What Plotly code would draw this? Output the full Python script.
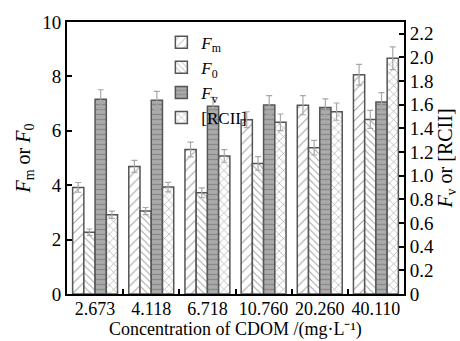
import plotly.graph_objects as go

# CDOM concentrations (mg/L) used as the category labels
concentrations = ["2.673", "4.118", "6.718", "10.760", "20.260", "40.110"]

# Left axis: Fm and F0
fm_values = [3.92, 4.69, 5.31, 6.41, 6.94, 8.06]
fm_errors = [0.18, 0.22, 0.27, 0.29, 0.35, 0.38]
f0_values = [2.27, 3.05, 3.72, 4.80, 5.38, 6.42]
f0_errors = [0.12, 0.13, 0.18, 0.25, 0.27, 0.33]

# Right axis: Fv and [RCII]
fv_values = [1.647, 1.638, 1.587, 1.599, 1.576, 1.624]
fv_errors = [0.080, 0.076, 0.076, 0.079, 0.074, 0.079]
rc_values = [0.67, 0.904, 1.167, 1.452, 1.542, 1.994]
rc_errors = [0.030, 0.040, 0.053, 0.070, 0.073, 0.096]

# Tick labels
left_ticks = [0, 2, 4, 6, 8, 10]
left_labels = ["0", "2", "4", "6", "8", "10"]
right_ticks = [0, 0.2, 0.4, 0.6, 0.8, 1.0, 1.2, 1.4, 1.6, 1.8, 2.0, 2.2]
right_labels = ["0", "0.2", "0.4", "0.6", "0.8", "1.0", "1.2", "1.4",
                "1.6", "1.8", "2.0", "2.2"]

FONT = "Liberation Serif, Times New Roman, serif"
EDGE = "#555555"
ERR = "#a8a8a8"
BAR_W = 0.2


def bar(name, values, errors, offset, axis, pattern, bg):
    return go.Bar(
        name=name,
        x=concentrations,
        y=values,
        yaxis=axis,
        width=BAR_W,
        offset=offset,
        error_y=dict(type="data", array=errors, visible=True,
                     color=ERR, thickness=1.2, width=3),
        marker=dict(color=bg, line=dict(color=EDGE, width=1.5),
                    pattern=pattern),
    )


fig = go.Figure()
fig.add_trace(bar("<i>F</i><sub>m</sub>", fm_values, fm_errors, -0.4, "y",
                  dict(shape="/", fgcolor="#444444", bgcolor="white",
                       size=7, solidity=0.15), "white"))
fig.add_trace(bar("<i>F</i><sub>0</sub>", f0_values, f0_errors, -0.2, "y",
                  dict(shape="\\", fgcolor="#444444", bgcolor="white",
                       size=5, solidity=0.2), "white"))
fig.add_trace(bar("<i>F</i><sub>v</sub>", fv_values, fv_errors, 0.0, "y2",
                  dict(shape="-", fgcolor="#6a6a6a", bgcolor="#ababab",
                       size=5, solidity=0.3), "#ababab"))
fig.add_trace(bar("[RCII]", rc_values, rc_errors, 0.2, "y2",
                  dict(shape="x", fgcolor="#444444", bgcolor="white",
                       size=6, solidity=0.2), "white"))

axis_common = dict(
    showline=True, linecolor="black", linewidth=2,
    ticks="inside", ticklen=5, tickwidth=1.5, tickcolor="black",
    showgrid=False, zeroline=False, automargin=False,
    tickfont=dict(family=FONT, size=19, color="black"),
)

fig.update_layout(
    width=460, height=341,
    margin=dict(l=67, r=56, t=22, b=47),
    paper_bgcolor="white", plot_bgcolor="white",
    barmode="overlay",
    font=dict(family=FONT, color="black"),
    showlegend=True,
    legend=dict(x=0.28, y=0.99, xanchor="left", yanchor="top",
                bgcolor="rgba(0,0,0,0)", borderwidth=0,
                font=dict(family=FONT, size=17, color="black"),
                tracegroupgap=0, itemwidth=30),
    xaxis=dict(
        **{**axis_common, "tickfont": dict(family=FONT, size=18, color="black")},
        mirror=True,
        type="category",
        tickson="boundaries",
        tickangle=0,
        ticklabelstandoff=-3,
    ),
    yaxis=dict(
        **axis_common,
        range=[0, 10],
        tickvals=left_ticks, ticktext=left_labels,
        title=dict(text="<i>F</i><sub>m</sub> or <i>F</i><sub>0</sub>",
                   font=dict(family=FONT, size=20, color="black"),
                   standoff=6),
    ),
    yaxis2=dict(
        **axis_common,
        overlaying="y", side="right",
        range=[0, 2.3],
        tickvals=right_ticks, ticktext=right_labels,
        title=dict(text="<i>F</i><sub>v</sub> or [RCII]",
                   font=dict(family=FONT, size=20, color="black"),
                   standoff=4),
    ),
    annotations=[dict(
        text="Concentration of CDOM /(mg·L⁻¹)",
        xref="paper", yref="paper", x=0.5, y=-0.1728,
        xanchor="center", yanchor="bottom", showarrow=False,
        borderpad=0,
        font=dict(family=FONT, size=18, color="black"),
    )],
)

fig.write_html("out.html")
